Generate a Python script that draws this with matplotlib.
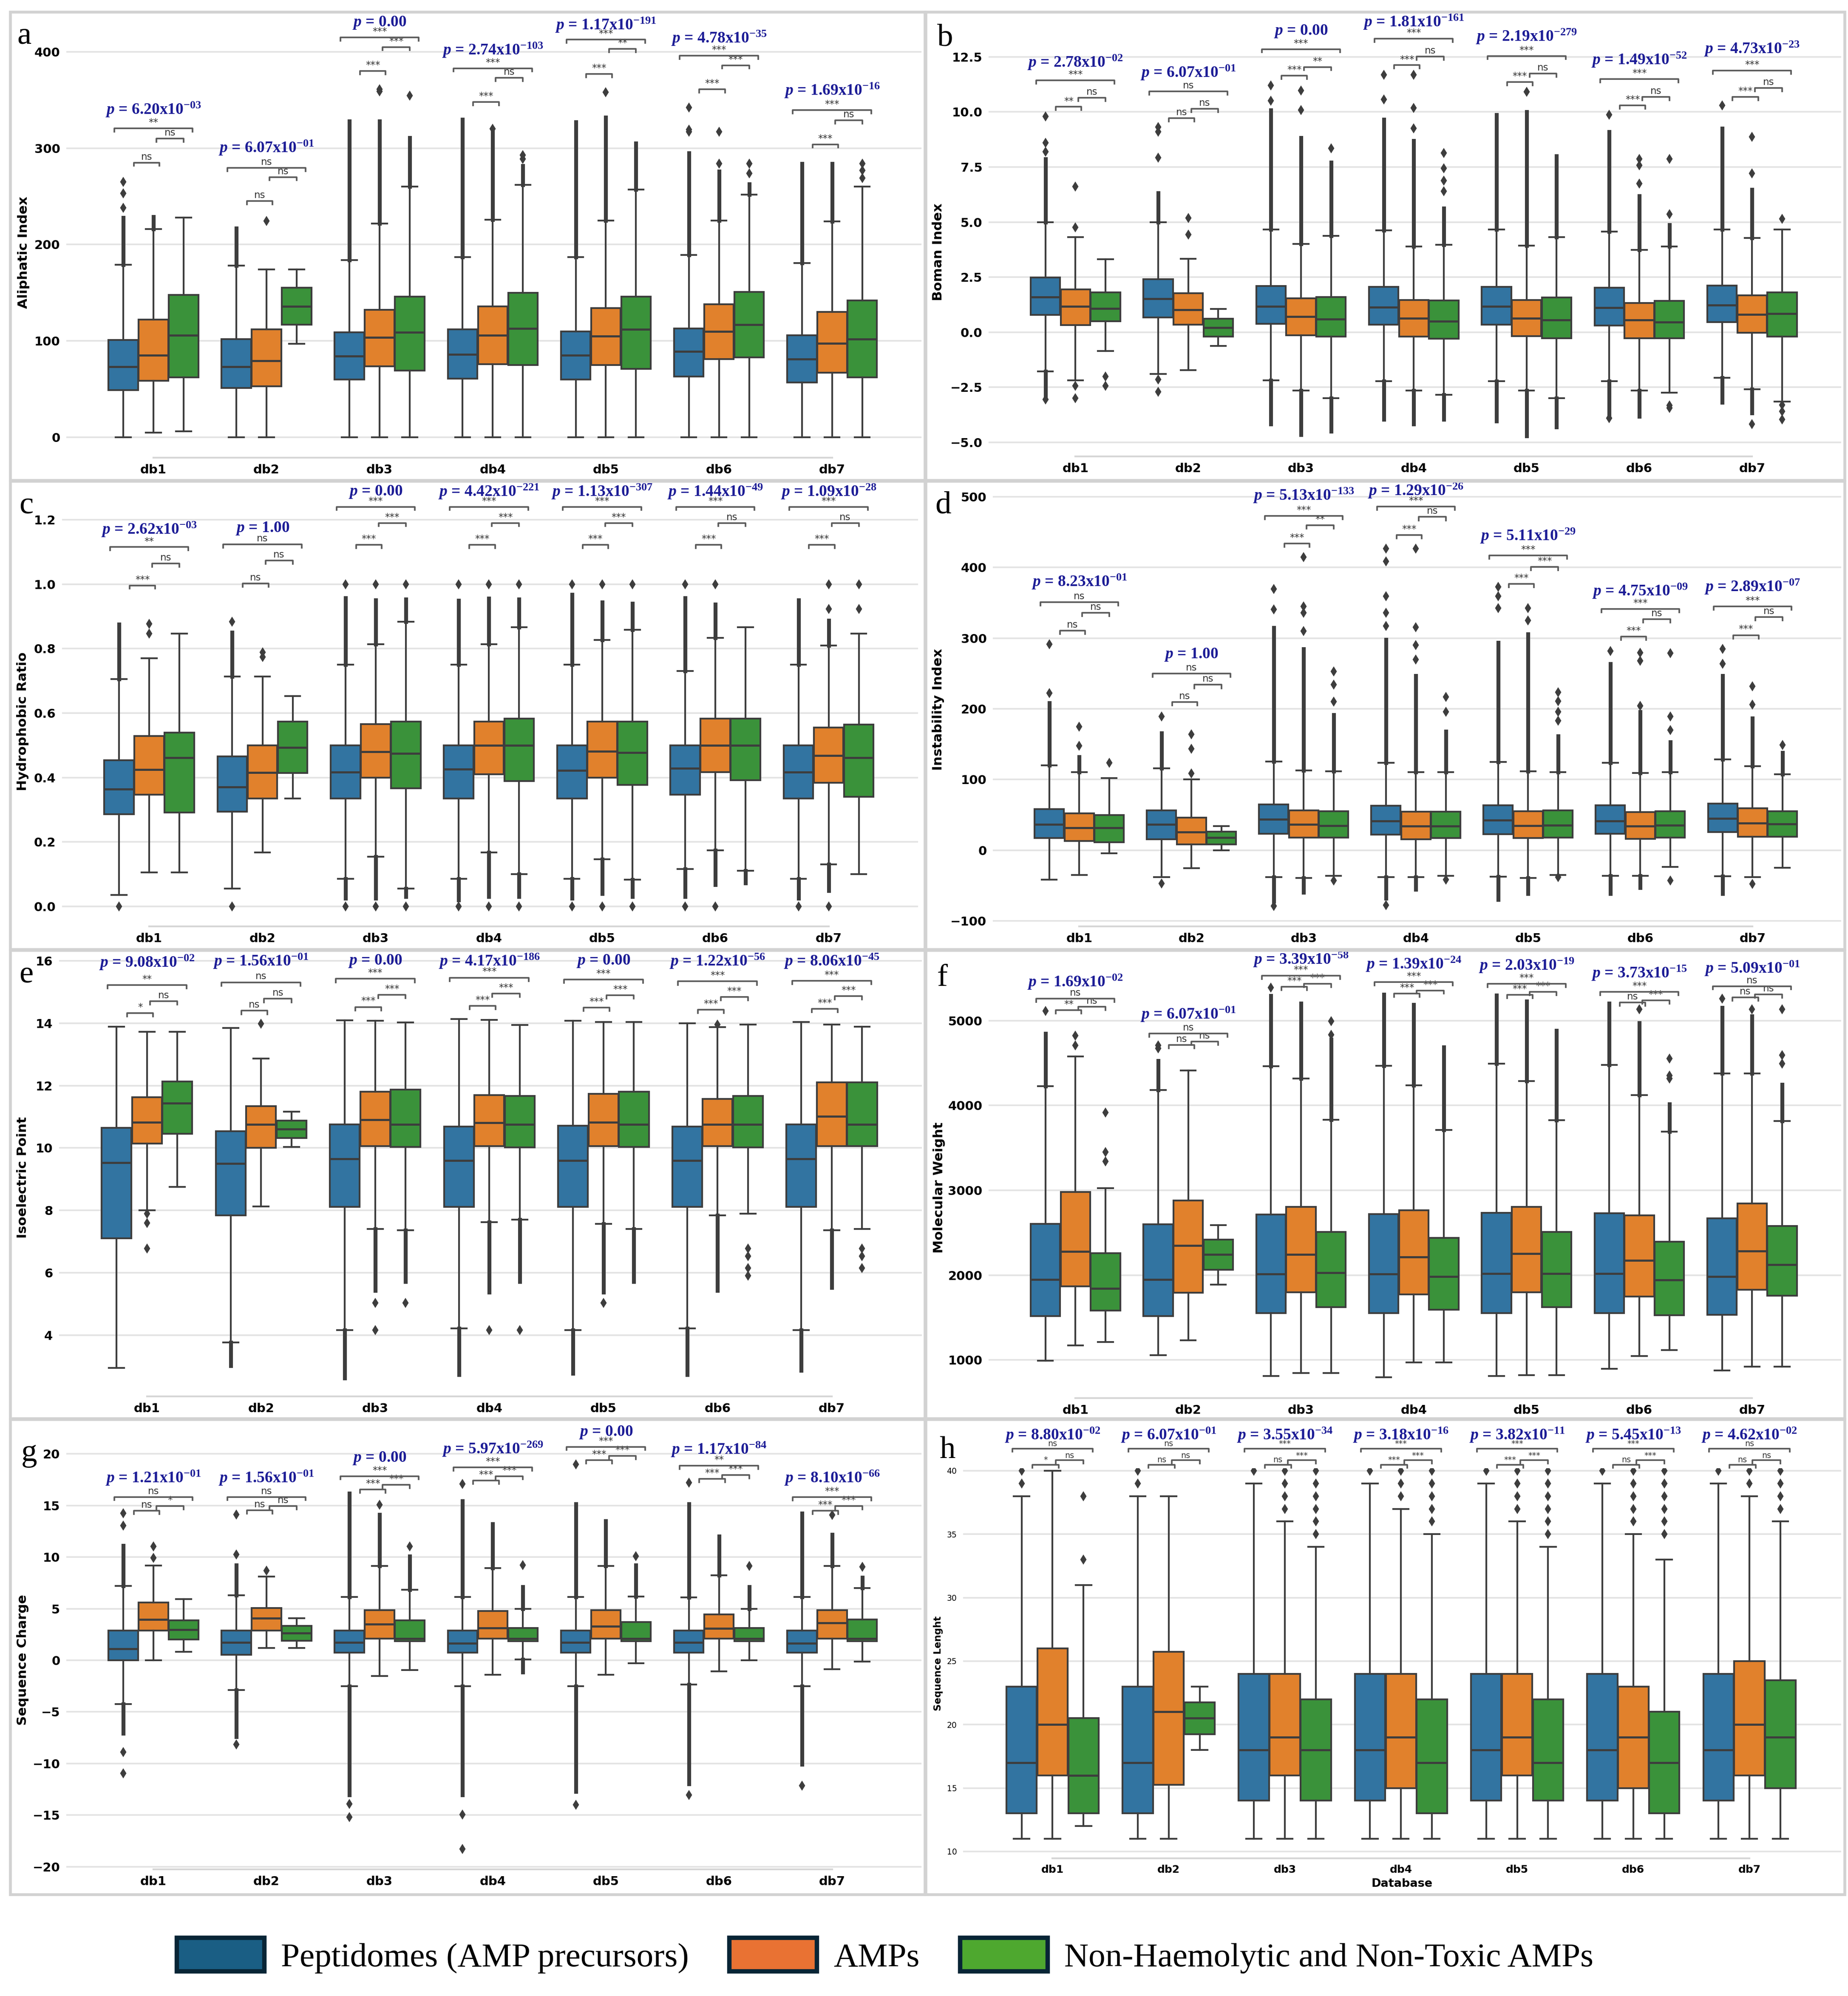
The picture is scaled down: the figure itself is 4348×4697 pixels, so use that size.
import matplotlib
matplotlib.use("Agg")
import matplotlib.pyplot as plt
from matplotlib.patches import Rectangle, Patch

W_PX, H_PX, DPI = 4348, 4697, 300

plt.rcParams["font.family"] = "DejaVu Sans"
plt.rcParams["mathtext.fontset"] = "custom"
plt.rcParams["mathtext.rm"] = "Liberation Serif:weight=bold"
plt.rcParams["mathtext.it"] = "Liberation Serif:style=italic:weight=bold"
plt.rcParams["mathtext.bf"] = "Liberation Serif:weight=bold"

DBS = ["db1", "db2", "db3", "db4", "db5", "db6", "db7"]
GROUPS = ["Peptidomes (AMP precursors)", "AMPs", "Non-Haemolytic and Non-Toxic AMPs"]
BOX_COLORS = ["#3274a1", "#e1812c", "#3a923a"]
KEY_COLORS = ["#1a5e84", "#e97233", "#4ea82f"]
EDGE = "#3d3d3d"
P_COLOR = "#1c1c96"

NO3 = [None, None, None]
E3 = [[], [], []]

# ---------------- a: Aliphatic Index ----------------
AL_Q3 = [[101, 122, 147.5], [102, 112, 155], [109, 132.5, 146], [112, 136, 150],
         [110, 134, 146], [113, 138, 151], [106, 130, 142]]
AL_Q1 = [[49, 58.5, 62], [51, 53, 117], [60, 73.5, 69], [61, 76, 75],
         [60, 75, 71], [63, 81, 83], [57, 67, 62]]
AL_MED = [[73, 85, 106], [73, 79.5, 136], [84, 103.7, 109], [86, 106, 113],
          [85, 105, 112], [89, 110, 117], [81, 97.6, 102]]
AL_LO = [[0, 5, 6], [0, 0, 97], [0, 0, 0], [0, 0, 0], [0, 0, 0], [0, 0, 0], [0, 0, 0]]
AL_HI = [[179, 216, 228], [178, 174, 174], [184, 222, 260], [187, 226, 262],
         [187, 225, 257], [189, 225, 252], [181, 224, 260]]
AL_UPD = [[228, 229, None], [217, None, None], [328, 328, 311], [330, 317, 282],
          [327, 332, 305], [295, 276, 263], [284, 284, None]]
AL_UPS = [[[238, 253, 265], [], []], [[], [224.5], []], [[], [359, 361], [354.5]],
          [[], [320], [289, 293]], [[], [358], []], [[317, 319.5, 342], [284, 317], [274, 284]],
          [[], [], [269, 277, 284]]]
AL_LOD = [NO3] * 7
AL_LOS = [E3] * 7
AL_BRK = [[285, 310, 320.5, 340], [245, 270, 279.5, 300.5], [380, 405, 415, 430],
          [348, 373, 383, 401.6], [377, 403, 412.7, 428], [361, 386, 396, 414],
          [304, 329, 339.6, 360]]
AL_SIG = [["ns", "ns", "**"], ["ns", "ns", "ns"], ["***", "***", "***"], ["***", "ns", "***"],
          ["***", "**", "***"], ["***", "***", "***"], ["***", "ns", "***"]]
AL_P = ["6.20e-03", "6.07e-01", "0.00", "2.74e-103", "1.17e-191", "4.78e-35", "1.69e-16"]

# ---------------- b: Boman Index ----------------
BO_Q3 = [[2.48, 1.95, 1.81], [2.41, 1.77, 0.61], [2.09, 1.53, 1.6], [2.06, 1.46, 1.44],
         [2.06, 1.46, 1.57], [2.02, 1.32, 1.42], [2.12, 1.67, 1.81]]
BO_Q1 = [[0.78, 0.32, 0.49], [0.67, 0.35, -0.2], [0.38, -0.14, -0.2], [0.35, -0.2, -0.3],
         [0.35, -0.18, -0.27], [0.31, -0.27, -0.27], [0.45, -0.02, -0.2]]
BO_MED = [[1.6, 1.18, 1.07], [1.52, 1.02, 0.21], [1.18, 0.7, 0.6], [1.14, 0.63, 0.49],
          [1.18, 0.63, 0.55], [1.12, 0.55, 0.46], [1.23, 0.8, 0.84]]
BO_LO = [[-1.78, -2.18, -0.86], [-1.9, -1.73, -0.62], [-2.18, -2.64, -2.99], [-2.22, -2.64, -2.85],
         [-2.22, -2.64, -2.99], [-2.22, -2.64, -2.74], [-2.08, -2.6, -3.15]]
BO_HI = [[5.0, 4.31, 3.31], [5.0, 3.33, 1.05], [4.66, 4.01, 4.38], [4.62, 3.9, 3.96],
         [4.66, 3.92, 4.31], [4.56, 3.73, 3.9], [4.66, 4.27, 4.66]]
BO_UPD = [[7.86, None, None], [6.33, None, None], [10.08, 8.83, 7.72], [9.66, 8.69, 5.63],
          [9.87, 10.01, 8.0], [9.1, 6.19, 4.87], [9.25, 6.47, None]]
BO_UPS = [[[8.2, 8.6, 9.8], [4.76, 6.61], []], [[7.93, 9.1, 9.32], [4.44, 5.19], []],
          [[10.5, 11.2], [10.08, 10.98], [8.34]], [[10.57, 11.68], [9.25, 10.19, 11.68], [6.4, 6.88, 7.44, 8.14]],
          [[], [10.92], []], [[9.87], [6.75, 7.58, 7.86], [5.36, 7.86]], [[10.29], [7.2, 8.87], [5.15]]]
BO_LOD = [[-2.98, None, None], NO3, [-4.17, -4.65, -4.51], [-3.96, -4.17, -3.96],
          [-4.03, -4.72, -4.31], [-3.82, -3.82, None], [-3.19, -3.68, None]]
BO_LOS = [[[-3.05], [-2.43, -2.99], [-2.01, -2.43]], [[-2.15, -2.71], [], []], E3, E3, E3,
          [[-3.9], [], [-3.33, -3.45]], [[], [-4.17], [-3.3, -3.6, -3.96]]]
BO_BRK = [[10.23, 10.64, 11.43, 12.24], [9.72, 10.14, 10.93, 11.79], [11.64, 12.04, 12.85, 13.67],
          [12.12, 12.51, 13.32, 14.07], [11.35, 11.74, 12.54, 13.42], [10.29, 10.68, 11.49, 12.36],
          [10.68, 11.08, 11.87, 12.86]]
BO_SIG = [["**", "ns", "***"], ["ns", "ns", "ns"], ["***", "**", "***"], ["***", "ns", "***"],
          ["***", "ns", "***"], ["***", "ns", "***"], ["***", "ns", "***"]]
BO_P = ["2.78e-02", "6.07e-01", "0.00", "1.81e-161", "2.19e-279", "1.49e-52", "4.73e-23"]

# ---------------- c: Hydrophobic Ratio ----------------
HY_Q3 = [[0.454, 0.529, 0.54], [0.466, 0.5, 0.573], [0.5, 0.566, 0.573], [0.5, 0.573, 0.583],
         [0.5, 0.573, 0.573], [0.5, 0.583, 0.583], [0.5, 0.555, 0.564]]
HY_Q1 = [[0.286, 0.347, 0.291], [0.294, 0.335, 0.414], [0.335, 0.4, 0.366], [0.335, 0.41, 0.389],
         [0.335, 0.4, 0.377], [0.347, 0.417, 0.392], [0.335, 0.384, 0.34]]
HY_MED = [[0.364, 0.424, 0.462], [0.37, 0.415, 0.493], [0.417, 0.48, 0.475], [0.426, 0.5, 0.5],
          [0.422, 0.481, 0.478], [0.429, 0.5, 0.5], [0.417, 0.468, 0.462]]
HY_LO = [[0.036, 0.105, 0.105], [0.056, 0.167, 0.335], [0.086, 0.154, 0.056], [0.086, 0.168, 0.1],
         [0.086, 0.146, 0.083], [0.116, 0.174, 0.111], [0.086, 0.131, 0.1]]
HY_HI = [[0.706, 0.77, 0.846], [0.714, 0.714, 0.653], [0.75, 0.813, 0.884], [0.75, 0.813, 0.867],
         [0.75, 0.827, 0.858], [0.731, 0.833, 0.867], [0.75, 0.81, 0.846]]
HY_UPD = [[0.876, None, None], [0.851, None, None], [0.958, 0.951, 0.954], [0.949, 0.956, 0.954],
          [0.968, 0.944, 0.94], [0.958, 0.937, None], [0.951, 0.888, None]]
HY_UPS = [[[], [0.846, 0.877], []], [[0.884], [0.774, 0.788], []], [[1.0], [1.0], [1.0]],
          [[1.0], [1.0], [1.0]], [[1.0], [1.0], [1.0]], [[1.0], [1.0], []], [[], [0.923, 1.0], [0.923, 1.0]]]
HY_LOD = [NO3, NO3, [0.025, 0.025, 0.03], [0.02, 0.03, 0.03], [0.025, 0.039, 0.03],
          [0.03, 0.067, 0.072], [0.025, 0.049, None]]
HY_LOS = [[[0.0], [], []], [[0.0], [], []], [[0.0], [0.0], [0.0]], [[0.0], [0.0], [0.0]],
          [[0.0], [0.0], [0.0]], [[0.0], [0.0], []], [[0.0], [0.0], []]]
HY_BRK = [[0.996, 1.064, 1.115, 1.17], [1.002, 1.073, 1.123, 1.173]] + [[1.122, 1.19, 1.24, 1.287]] * 5
HY_SIG = [["***", "ns", "**"], ["ns", "ns", "ns"], ["***", "***", "***"], ["***", "***", "***"],
          ["***", "***", "***"], ["***", "ns", "***"], ["***", "ns", "***"]]
HY_P = ["2.62e-03", "1.00", "0.00", "4.42e-221", "1.13e-307", "1.44e-49", "1.09e-28"]

# ---------------- d: Instability Index ----------------
IN_Q3 = [[58.3, 52, 49.8], [56.6, 46, 26.4], [64.7, 56.6, 55.3], [63, 54.5, 54.5],
         [63.8, 55.3, 56.2], [63.8, 54, 55.3], [66, 59.6, 55.3]]
IN_Q1 = [[17, 12.8, 11.5], [15.7, 8.5, 8.5], [23.4, 17.9, 17.9], [22.1, 15.7, 17],
         [22.6, 17, 17.9], [23.4, 16.2, 17.9], [25.5, 19.1, 19.1]]
IN_MED = [[36.2, 31.9, 31.9], [36.2, 25.5, 17.9], [43.4, 36.2, 34.9], [41.3, 34, 34],
          [42.6, 34.9, 35.3], [41.3, 34, 35.3], [44.7, 38.3, 37]]
IN_LO = [[-41.7, -35.3, -4.3], [-38.3, -25.5, 0], [-38.3, -39.1, -36.2], [-38.3, -38.3, -36.2],
         [-37.4, -39.1, -34.9], [-36.2, -36.2, -23.4], [-37, -38.3, -24.7]]
IN_HI = [[120, 110.6, 102], [115.7, 100, 34], [125.5, 112.8, 111.5], [123.4, 110.6, 110.6],
         [125, 111.5, 110.6], [123.4, 109.4, 110.6], [128.5, 119.1, 107.2]]
IN_UPD = [[208.5, 132, None], [166, None, None], [314.9, 285, 191.5], [297.9, 246.8, 168],
          [293.6, 306, 161.7], [263.8, 195.7, 153.2], [246.8, 187, 138.3]]
IN_UPS = [[[222, 291.5], [147.6, 174.5], [123.4]], [[189], [108.5, 143.4, 163.8], []],
          [[340.4, 369.4], [310, 336, 344.7, 414.9], [210, 234, 252.8]],
          [[317, 336, 359.6, 408.5, 426.4], [270, 290, 315.7, 426.4], [196, 217]],
          [[342.6, 359.6, 372.3], [325, 342.6], [183, 196, 211, 223.4]],
          [[282], [204, 268, 279.6], [170, 189, 278.7]], [[263.8, 285], [206, 231.9], [149]]]
IN_LOD = [NO3, NO3, [-72.3, -60, None], [-68, -55.3, None], [-70.2, -61.7, None],
          [-61.7, -53.2, None], [-61.7, None, None]]
IN_LOS = [E3, [[-46.8], [], []], [[-78.7], [], [-42.6]], [[-77.9], [], [-41.7]],
          [[], [], [-38.3]], [[], [], [-42.6]], [[], [-47.7], []]]
IN_BRK = [[310.6, 336, 351, 380], [209.8, 234, 249.8, 276.6], [434, 459.6, 473.2, 502],
          [446, 471.5, 486, 508.5], [376.6, 400.9, 417, 444.7], [302, 326.8, 341.3, 366.8],
          [304.3, 329.8, 344.7, 372.3]]
IN_SIG = [["ns", "ns", "ns"], ["ns", "ns", "ns"], ["***", "**", "***"], ["***", "ns", "***"],
          ["***", "***", "***"], ["***", "ns", "***"], ["***", "ns", "***"]]
IN_P = ["8.23e-01", "1.00", "5.13e-133", "1.29e-26", "5.11e-29", "4.75e-09", "2.89e-07"]

# ---------------- e: Isoelectric Point ----------------
PI_Q3 = [[10.64, 11.63, 12.13], [10.54, 11.34, 10.88], [10.76, 11.81, 11.87], [10.69, 11.7, 11.67],
         [10.71, 11.73, 11.81], [10.69, 11.57, 11.67], [10.76, 12.1, 12.1]]
PI_Q1 = [[7.1, 10.14, 10.46], [7.84, 10.01, 10.32], [8.11, 10.06, 10.04], [8.11, 10.06, 10.02],
         [8.11, 10.06, 10.03], [8.11, 10.06, 10.02], [8.11, 10.06, 10.06]]
PI_MED = [[9.53, 10.83, 11.43], [9.5, 10.76, 10.61], [9.65, 10.9, 10.76], [9.6, 10.81, 10.76],
          [9.6, 10.83, 10.76], [9.6, 10.76, 10.76], [9.65, 11.02, 10.76]]
PI_LO = [[2.95, 8.01, 8.76], [3.77, 8.13, 10.03], [4.16, 7.41, 7.36], [4.22, 7.63, 7.71],
         [4.17, 7.57, 7.41], [4.22, 7.84, 7.89], [4.16, 7.36, 7.41]]
PI_HI = [[13.89, 13.73, 13.72], [13.84, 12.86, 11.17], [14.09, 14.08, 14.03], [14.13, 14.11, 13.94],
         [14.08, 14.04, 14.04], [13.99, 13.87, 13.96], [14.04, 13.96, 13.89]]
PI_UPD = [NO3] * 7
PI_UPS = [E3, [[], [13.98], []], E3, E3, E3, [[], [13.96], []], E3]
PI_LOD = [NO3, [3.02, None, None], [2.63, 5.43, 5.72], [2.73, 5.38, 5.72], [2.78, 5.38, 5.72],
          [2.73, 5.43, None], [2.87, 5.52, None]]
PI_LOS = [[[], [7.89, 7.6, 6.78], []], E3, [[], [5.04, 4.16], [5.04]], [[], [4.16], [4.16]],
          [[], [5.04], []], [[], [], [6.78, 6.54, 6.15, 5.91]], [[], [], [6.78, 6.54, 6.15]]]
PI_BRK = [[14.32, 14.71, 15.22, 15.94], [14.4, 14.78, 15.31, 15.99], [14.52, 14.91, 15.42, 15.99],
          [14.56, 14.95, 15.46, 15.99], [14.5, 14.9, 15.4, 15.99], [14.43, 14.84, 15.34, 15.99],
          [14.46, 14.87, 15.36, 15.99]]
PI_SIG = [["*", "ns", "**"], ["ns", "ns", "ns"]] + [["***", "***", "***"]] * 5
PI_P = ["9.08e-02", "1.56e-01", "0.00", "4.17e-186", "0.00", "1.22e-56", "8.06e-45"]

# ---------------- f: Molecular Weight ----------------
MW_Q3 = [[2604, 2981, 2260], [2597, 2881, 2420], [2714, 2803, 2508], [2721, 2764, 2437],
         [2732, 2803, 2508], [2728, 2704, 2391], [2668, 2846, 2579]]
MW_Q1 = [[1515, 1869, 1579], [1515, 1791, 2065], [1550, 1799, 1621], [1550, 1774, 1593],
         [1550, 1799, 1621], [1550, 1745, 1525], [1532, 1827, 1756]]
MW_MED = [[1948, 2278, 1841], [1948, 2349, 2242], [2012, 2242, 2029], [2012, 2214, 1983],
          [2019, 2253, 2019], [2019, 2172, 1941], [1983, 2285, 2125]]
MW_LO = [[989, 1170, 1213], [1053, 1231, 1887], [812, 847, 847], [794, 972, 972],
         [812, 822, 822], [894, 1043, 1114], [876, 922, 922]]
MW_HI = [[4230, 4578, 3023], [4184, 4414, 2590], [4461, 4319, 3832], [4468, 4237, 3712],
         [4496, 4290, 3829], [4478, 4123, 3690], [4379, 4379, 3815]]
MW_UPD = [[4851, None, None], [4531, None, None], [5295, 5206, 4780], [5312, 5188, 4691],
          [5302, 5231, 4886], [5206, 4975, 4017], [5153, 5053, 4248]]
MW_UPS = [[[5117], [4709, 4826], [3342, 3449, 3917]], [[4673, 4709], [], []], [[5390], [], [4833, 4993]],
          E3, E3, [[], [5135], [4318, 4354, 4556]], [[5259], [5135], [4496, 4592, 5135]]]
MW_LOD = [NO3] * 7
MW_LOS = [E3] * 7
MW_BRK = [[5124, 5163, 5259, 5454], [4716, 4755, 4851, 5075], [5401, 5437, 5532, 5720],
          [5319, 5358, 5454, 5667], [5305, 5341, 5437, 5650], [5213, 5241, 5341, 5561],
          [5277, 5312, 5408, 5614]]
MW_SIG = [["**", "ns", "ns"], ["ns", "ns", "ns"], ["***", "***", "***"], ["***", "***", "***"],
          ["***", "***", "***"], ["ns", "***", "***"], ["ns", "ns", "ns"]]
MW_P = ["1.69e-02", "6.07e-01", "3.39e-58", "1.39e-24", "2.03e-19", "3.73e-15", "5.09e-01"]

# ---------------- g: Sequence Charge ----------------
CH_Q3 = [[2.89, 5.59, 3.87], [2.89, 5.06, 3.34], [2.89, 4.85, 3.87], [2.89, 4.76, 3.13],
         [2.89, 4.85, 3.72], [2.89, 4.46, 3.13], [2.89, 4.85, 3.96]]
CH_Q1 = [[0.01, 2.89, 2.0], [0.55, 2.89, 1.88], [0.76, 2.09, 1.85], [0.76, 2.09, 1.85],
         [0.76, 2.09, 1.85], [0.76, 2.09, 1.85], [0.76, 2.09, 1.85]]
CH_MED = [[1.11, 3.96, 2.98], [1.73, 4.08, 2.62], [1.73, 3.48, 2.09], [1.65, 3.13, 2.09],
          [1.73, 3.28, 2.09], [1.73, 3.07, 2.09], [1.65, 3.63, 2.09]]
CH_LO = [[-4.23, 0.01, 0.84], [-2.89, 1.2, 1.2], [-2.51, -1.53, -0.93], [-2.51, -1.38, 0.1],
         [-2.51, -1.38, -0.28], [-2.36, -1.08, 0.01], [-2.51, -0.87, -0.13]]
CH_HI = [[7.19, 9.18, 5.94], [6.3, 8.11, 4.08], [6.15, 9.12, 6.83], [6.15, 8.91, 4.97],
         [6.15, 9.12, 6.18], [6.09, 8.23, 5.0], [6.15, 9.12, 6.98]]
CH_UPD = [[11.13, None, None], [9.2, None, None], [16.17, 14.1, 10.1], [15.43, 13.21, 7.13],
          [15.14, 13.5, 9.21], [15.14, 12.02, 7.13], [14.25, 12.17, 8.02]]
CH_UPS = [[[13.06, 14.25], [9.92, 11.05], []], [[10.24, 14.1], [8.67], []], [[], [15.08], [11.05]],
          [[17.06], [], [9.21]], [[18.99], [], [10.1]], [[17.21], [], [9.12]], [[], [14.07], [9.06]]]
CH_LOD = [[-7.1, None, None], [-7.4, None, None], [-13.03, None, None], [-13.03, None, -1.17],
          [-12.73, None, None], [-11.99, None, None], [-10.07, None, None]]
CH_LOS = [[[-8.88, -10.96], [], []], [[-8.14], [], []], [[-13.92, -15.17], [], []],
          [[-14.96, -18.28], [], []], [[-13.98], [], []], [[-13.03], [], []], [[-12.14], [], []]]
CH_BRK = [[14.48, 14.93, 15.82, 17.66], [14.54, 14.93, 15.82, 17.66], [16.56, 16.98, 17.84, 19.58],
          [17.42, 17.84, 18.7, 20.47], [19.38, 19.79, 20.68, 22.1], [17.57, 17.95, 18.84, 20.42],
          [14.48, 14.93, 15.79, 17.66]]
CH_SIG = [["ns", "*", "ns"], ["ns", "ns", "ns"], ["***", "***", "***"], ["***", "***", "***"],
          ["***", "***", "***"], ["***", "***", "**"], ["***", "***", "***"]]
CH_P = ["1.21e-01", "1.56e-01", "0.00", "5.97e-269", "0.00", "1.17e-84", "8.10e-66"]

# ---------------- h: Sequence Lenght ----------------
LE_Q3 = [[23, 26, 20.5], [23, 25.75, 21.75], [24, 24, 22], [24, 24, 22], [24, 24, 22],
         [24, 23, 21], [24, 25, 23.5]]
LE_Q1 = [[13, 16, 13], [13, 15.25, 19.25], [14, 16, 14], [14, 15, 13], [14, 16, 14],
         [14, 15, 13], [14, 16, 15]]
LE_MED = [[17, 20, 16], [17, 21, 20.5], [18, 19, 18], [18, 19, 17], [18, 19, 17],
          [18, 19, 17], [18, 20, 19]]
LE_LO = [[11, 11, 12], [11, 11, 18], [11, 11, 11], [11, 11, 11], [11, 11, 11], [11, 11, 11], [11, 11, 11]]
LE_HI = [[38, 40, 31], [38, 38, 23], [39, 36, 34], [39, 37, 35], [39, 36, 34], [39, 35, 33], [39, 38, 36]]
LE_UPD = [NO3] * 7
LE_UPS = [[[39, 40], [], [33, 38]], [[39, 40], [], []],
          [[40], [37, 38, 39, 40], [35, 36, 37, 38, 39, 40]],
          [[40], [38, 39, 40], [36, 37, 38, 39, 40]],
          [[40], [37, 38, 39, 40], [35, 36, 37, 38, 39, 40]],
          [[40], [36, 37, 38, 39, 40], [35, 36, 37, 38, 39, 40]],
          [[40], [39, 40], [37, 38, 39, 40]]]
LE_LOD = [NO3] * 7
LE_LOS = [E3] * 7
LE_BRK = [[40.48, 40.82, 41.74, 42.82]] * 7
LE_SIG = [["*", "ns", "ns"], ["ns", "ns", "ns"], ["ns", "***", "***"], ["***", "***", "***"],
          ["***", "***", "***"], ["ns", "***", "***"], ["ns", "ns", "ns"]]
LE_P = ["8.80e-02", "6.07e-01", "3.55e-34", "3.18e-16", "3.82e-11", "5.45e-13", "4.62e-02"]

Y_LABELS = ["Aliphatic Index", "Boman Index", "Hydrophobic Ratio", "Instability Index",
            "Isoelectric Point", "Molecular Weight", "Sequence Charge", "Sequence Lenght"]
Y_TICKS = [[0, 100, 200, 300, 400],
           [-5, -2.5, 0, 2.5, 5, 7.5, 10, 12.5],
           [0, 0.2, 0.4, 0.6, 0.8, 1.0, 1.2],
           [-100, 0, 100, 200, 300, 400, 500],
           [4, 6, 8, 10, 12, 14, 16],
           [1000, 2000, 3000, 4000, 5000],
           [-20, -15, -10, -5, 0, 5, 10, 15, 20],
           [10, 15, 20, 25, 30, 35, 40]]

PANELS = [
    (AL_Q1, AL_MED, AL_Q3, AL_LO, AL_HI, AL_UPD, AL_UPS, AL_LOD, AL_LOS, AL_BRK, AL_SIG, AL_P),
    (BO_Q1, BO_MED, BO_Q3, BO_LO, BO_HI, BO_UPD, BO_UPS, BO_LOD, BO_LOS, BO_BRK, BO_SIG, BO_P),
    (HY_Q1, HY_MED, HY_Q3, HY_LO, HY_HI, HY_UPD, HY_UPS, HY_LOD, HY_LOS, HY_BRK, HY_SIG, HY_P),
    (IN_Q1, IN_MED, IN_Q3, IN_LO, IN_HI, IN_UPD, IN_UPS, IN_LOD, IN_LOS, IN_BRK, IN_SIG, IN_P),
    (PI_Q1, PI_MED, PI_Q3, PI_LO, PI_HI, PI_UPD, PI_UPS, PI_LOD, PI_LOS, PI_BRK, PI_SIG, PI_P),
    (MW_Q1, MW_MED, MW_Q3, MW_LO, MW_HI, MW_UPD, MW_UPS, MW_LOD, MW_LOS, MW_BRK, MW_SIG, MW_P),
    (CH_Q1, CH_MED, CH_Q3, CH_LO, CH_HI, CH_UPD, CH_UPS, CH_LOD, CH_LOS, CH_BRK, CH_SIG, CH_P),
    (LE_Q1, LE_MED, LE_Q3, LE_LO, LE_HI, LE_UPD, LE_UPS, LE_LOD, LE_LOS, LE_BRK, LE_SIG, LE_P),
]

# layout in pixels: left, right, top, bottom, ylim, ylabel right edge, letter x, letter y
LAYOUT = [
    ("a", 156, 2168, 112, 1077, (-21.2, 404.4), 70, 40, 85),
    ("b", 2326, 4332, 112, 1074, (-5.64, 12.92), 2222, 2205, 90),
    ("c", 146, 2160, 1215, 2180, (-0.062, 1.2106), 68, 45, 1190),
    ("d", 2336, 4332, 1160, 2180, (-107.8, 505.4), 2222, 2200, 1190),
    ("e", 139, 2169, 2255, 3286, (2.04, 16.08), 68, 45, 2294),
    ("f", 2326, 4332, 2300, 3290, (549, 5511), 2224, 2205, 2302),
    ("g", 156, 2168, 3414, 4399, (-20.25, 20.29), 68, 50, 3420),
    ("h", 2266, 4332, 3455, 4373, (9.46, 40.2), 2219, 2210, 3413),
]
FRAMES_X = [(24, 2176), (2178, 4340)]
FRAMES_Y = [(28, 1130), (1132, 2234), (2236, 3338), (3340, 4458)]

W = 0.8 / 3
SPANS = [(-0.65, 0.2), (0.1, 1.0), (-1.3, 1.3)]


def p_label(s):
    if "e" in s:
        m, e = s.split("e")
        return r"$\mathit{p}$ = " + m + "x10" + "$^{" + e + "}$"
    return r"$\mathit{p}$ = " + s


def draw_panel(ax, data, ylim, small):
    q1, med, q3, lo, hi, upd, ups, lod, los, brk, sig, pv = data
    stats, pos, cols = [], [], []
    for i in range(len(DBS)):
        for j in range(3):
            stats.append(dict(med=med[i][j], q1=q1[i][j], q3=q3[i][j],
                              whislo=lo[i][j], whishi=hi[i][j], fliers=[]))
            pos.append(i + (j - 1) * W)
            cols.append(BOX_COLORS[j])
    art = ax.bxp(stats, positions=pos, widths=W * 0.98, capwidths=W * 0.5,
                 patch_artist=True, showfliers=False, manage_ticks=False,
                 boxprops=dict(edgecolor=EDGE, linewidth=1.0),
                 whiskerprops=dict(color=EDGE, linewidth=1.0),
                 capprops=dict(color=EDGE, linewidth=1.0),
                 medianprops=dict(color=EDGE, linewidth=1.2))
    for b, c in zip(art["boxes"], cols):
        b.set_facecolor(c)

    for i in range(len(DBS)):
        for j in range(3):
            x = i + (j - 1) * W
            if upd[i][j] is not None:
                ax.plot([x, x], [hi[i][j], upd[i][j]], color=EDGE, lw=2.2, zorder=3)
            if lod[i][j] is not None:
                ax.plot([x, x], [lo[i][j], lod[i][j]], color=EDGE, lw=2.2, zorder=3)
            pts = list(ups[i][j]) + list(los[i][j])
            if pts:
                ax.plot([x] * len(pts), pts, ls="none", marker="d", ms=2.6,
                        color=EDGE, zorder=3)

    rng = ylim[1] - ylim[0]
    leg = 0.008 * rng
    star_size = 4.6 if small else 5.5
    for i in range(len(DBS)):
        for (a, b), yy, s in zip(SPANS, brk[i][:3], sig[i]):
            x0, x1 = i + a * W, i + b * W
            ax.plot([x0, x0, x1, x1], [yy - leg, yy, yy, yy - leg], color="#5a5a5a",
                    lw=0.9, clip_on=False, zorder=4)
            ax.text((x0 + x1) / 2, yy + 0.002 * rng, s, ha="center", va="bottom",
                    fontsize=star_size, color="#333333", clip_on=False, zorder=4)
        ax.text(i, brk[i][3], p_label(pv[i]), ha="center", va="center", fontsize=9,
                color=P_COLOR, family="Liberation Serif", weight="bold", zorder=5)


fig = plt.figure(figsize=(W_PX / DPI, H_PX / DPI), dpi=DPI)
fig.patch.set_facecolor("white")

for (x0, x1) in FRAMES_X:
    for (y0, y1) in FRAMES_Y:
        fig.add_artist(Rectangle((x0 / W_PX, 1 - y1 / H_PX), (x1 - x0) / W_PX, (y1 - y0) / H_PX,
                                 transform=fig.transFigure, fill=False,
                                 edgecolor="#d2d2d2", linewidth=1.6))

for k, (letter, l, r, t, b, ylim, lab_x, let_x, let_y) in enumerate(LAYOUT):
    ax = fig.add_axes([l / W_PX, 1 - b / H_PX, (r - l) / W_PX, (b - t) / H_PX])
    small = letter == "h"
    draw_panel(ax, PANELS[k], ylim, small)
    ax.set_xlim(-0.77, 6.79)
    ax.set_ylim(*ylim)
    ax.set_yticks(Y_TICKS[k])
    ax.set_xticks(range(len(DBS)))
    ax.set_xticklabels(DBS)
    ax.yaxis.grid(True, color="#e3e3e3", lw=0.9)
    ax.set_axisbelow(True)
    for sp in ["left", "right", "top"]:
        ax.spines[sp].set_visible(False)
    ax.spines["bottom"].set_bounds(0, 6)
    ax.spines["bottom"].set_color("#d6d6d6")
    ax.spines["bottom"].set_linewidth(1.0)
    ax.tick_params(length=0)
    if small:
        ax.tick_params(axis="y", labelsize=4.5)
        ax.tick_params(axis="x", labelsize=6)
        for t_ in ax.get_xticklabels():
            t_.set_fontweight("bold")
        ax.set_ylabel(Y_LABELS[k], fontsize=5.5, fontweight="bold")
        ax.set_xlabel("Database", fontsize=6.5, fontweight="bold", labelpad=2)
    else:
        ax.tick_params(labelsize=7)
        for t_ in ax.get_xticklabels() + ax.get_yticklabels():
            t_.set_fontweight("bold")
        ax.set_ylabel(Y_LABELS[k], fontsize=7.5, fontweight="bold")
    ax.yaxis.set_label_coords((lab_x - l) / (r - l), 0.5)
    fig.text(let_x / W_PX, 1 - let_y / H_PX, letter, family="Liberation Serif",
             fontsize=18, ha="left", va="center")

handles = [Patch(facecolor=c, edgecolor="#082536", linewidth=2.5) for c in KEY_COLORS]
fig.legend(handles, GROUPS, loc="center", bbox_to_anchor=(0.479, 1 - 4602 / H_PX), ncol=3,
           frameon=False, prop=dict(family="Liberation Serif", size=19),
           handlelength=2.6, handleheight=1.16, handletextpad=0.5, columnspacing=1.2)

fig.savefig("out.png", dpi=DPI, facecolor="white")
